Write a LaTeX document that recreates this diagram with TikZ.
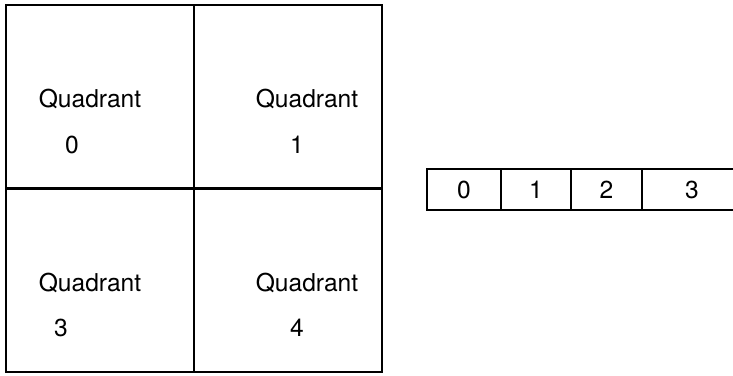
\documentclass[tikz,border=0pt]{standalone}
\usepackage{fontspec}
\setmainfont{TeX Gyre Heros}
\usetikzlibrary{positioning}

\begin{document}
\begin{tikzpicture}[
    quad/.style={rectangle, draw=black, line width=1.6pt, minimum width=3.76cm, minimum height=3.67cm, outer sep=0pt, inner sep=0pt},
    cell/.style={rectangle, draw=black, line width=1.6pt, minimum height=0.82cm, outer sep=0pt, inner sep=0pt, font=\fontsize{14}{16}\selectfont},
    qtext/.style={anchor=base, inner sep=0pt, font=\fontsize{14}{16}\selectfont}]

\useasboundingbox (0,0) rectangle (14.66,-7.5);

% The square split into four quadrants
\node[quad, anchor=north west] (q0) at (0.12,-0.10) {};
\node[quad, anchor=north west] (q1) at (q0.north east) {};
\node[quad, anchor=north west] (q3) at (q0.south west) {};
\node[quad, anchor=north west] (q4) at (q0.south east) {};

% Quadrant names and numbers
\node[qtext] (q0name) at (1.80,-2.14) {Quadrant};
\node[qtext] (q0num) at (1.44,-3.06) {0};
\node[qtext] (q1name) at (6.14,-2.14) {Quadrant};
\node[qtext] (q1num) at (5.94,-3.06) {1};
\node[qtext] (q3name) at (1.80,-5.82) {Quadrant};
\node[qtext] (q3num) at (1.22,-6.72) {3};
\node[qtext] (q4name) at (6.14,-5.82) {Quadrant};
\node[qtext] (q4num) at (5.94,-6.72) {4};

% Linear row of the same quadrants (last cell runs off the right edge)
\node[cell, minimum width=1.48cm, anchor=west] (c0) at (8.54,-3.79) {0};
\node[cell, minimum width=1.40cm, anchor=west] (c1) at (c0.east) {1};
\node[cell, minimum width=1.42cm, anchor=west] (c2) at (c1.east) {2};
\node[cell, minimum width=2.00cm, anchor=west] (c3) at (c2.east) {3};

\end{tikzpicture}
\end{document}
